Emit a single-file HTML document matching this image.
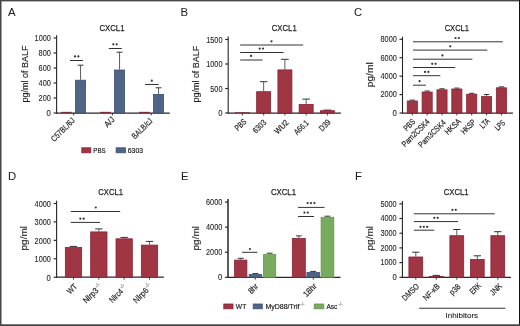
<!DOCTYPE html>
<html><head><meta charset="utf-8"><style>
html,body{margin:0;padding:0;background:#fff;}
body{width:520px;height:326px;overflow:hidden;}
svg{display:block;font-family:"Liberation Sans", sans-serif;will-change:transform;}
</style></head><body>
<svg width="520" height="326" viewBox="0 0 520 326">
<rect width="520" height="326" fill="#fff"/>
<rect x="0" y="0" width="1.5" height="326" fill="#444"/>
<rect x="0" y="0" width="520" height="1.4" fill="#484848"/>
<rect x="519" y="0" width="1" height="326" fill="#111"/>
<rect x="0" y="324.3" width="520" height="1.7" fill="#444"/>
<text x="8.00" y="15.80" font-size="11.3" text-anchor="start" fill="#231f20" stroke="#231f20" stroke-width="0.05" >A</text>
<text x="180.40" y="15.90" font-size="11.3" text-anchor="start" fill="#231f20" stroke="#231f20" stroke-width="0.05" >B</text>
<text x="354.00" y="16.00" font-size="11.3" text-anchor="start" fill="#231f20" stroke="#231f20" stroke-width="0.05" >C</text>
<text x="8.00" y="179.60" font-size="11.3" text-anchor="start" fill="#231f20" stroke="#231f20" stroke-width="0.05" >D</text>
<text x="181.00" y="179.80" font-size="11.3" text-anchor="start" fill="#231f20" stroke="#231f20" stroke-width="0.05" >E</text>
<text x="355.00" y="179.80" font-size="11.3" text-anchor="start" fill="#231f20" stroke="#231f20" stroke-width="0.05" >F</text>
<line x1="56.60" y1="35.30" x2="56.60" y2="113.50" stroke="#262626" stroke-width="1.1"/>
<line x1="53.60" y1="113.00" x2="56.60" y2="113.00" stroke="#262626" stroke-width="1.15"/>
<text x="50.90" y="115.85" font-size="8.4" text-anchor="end" fill="#231f20" stroke="#231f20" stroke-width="0.1" textLength="4.30" lengthAdjust="spacingAndGlyphs" >0</text>
<line x1="53.60" y1="98.00" x2="56.60" y2="98.00" stroke="#262626" stroke-width="1.15"/>
<text x="50.90" y="100.85" font-size="8.4" text-anchor="end" fill="#231f20" stroke="#231f20" stroke-width="0.1" textLength="12.30" lengthAdjust="spacingAndGlyphs" >200</text>
<line x1="53.60" y1="83.00" x2="56.60" y2="83.00" stroke="#262626" stroke-width="1.15"/>
<text x="50.90" y="85.85" font-size="8.4" text-anchor="end" fill="#231f20" stroke="#231f20" stroke-width="0.1" textLength="12.30" lengthAdjust="spacingAndGlyphs" >400</text>
<line x1="53.60" y1="68.00" x2="56.60" y2="68.00" stroke="#262626" stroke-width="1.15"/>
<text x="50.90" y="70.85" font-size="8.4" text-anchor="end" fill="#231f20" stroke="#231f20" stroke-width="0.1" textLength="12.30" lengthAdjust="spacingAndGlyphs" >600</text>
<line x1="53.60" y1="53.00" x2="56.60" y2="53.00" stroke="#262626" stroke-width="1.15"/>
<text x="50.90" y="55.85" font-size="8.4" text-anchor="end" fill="#231f20" stroke="#231f20" stroke-width="0.1" textLength="12.30" lengthAdjust="spacingAndGlyphs" >800</text>
<line x1="53.60" y1="38.00" x2="56.60" y2="38.00" stroke="#262626" stroke-width="1.15"/>
<text x="50.90" y="40.85" font-size="8.4" text-anchor="end" fill="#231f20" stroke="#231f20" stroke-width="0.1" textLength="16.30" lengthAdjust="spacingAndGlyphs" >1000</text>
<text x="99.40" y="30.73" font-size="9.8" text-anchor="start" fill="#231f20" stroke="#231f20" stroke-width="0.25" textLength="25.10" lengthAdjust="spacingAndGlyphs" >CXCL1</text>
<text x="27.82" y="73.97" font-size="8.6" text-anchor="middle" fill="#231f20" stroke="#231f20" stroke-width="0.15" textLength="56.90" lengthAdjust="spacingAndGlyphs" transform="rotate(-90 27.82 73.97)" >pg/ml of BALF</text>
<line x1="56.10" y1="113.00" x2="169.80" y2="113.00" stroke="#262626" stroke-width="1.25"/>
<line x1="73.60" y1="113.00" x2="73.60" y2="115.40" stroke="#262626" stroke-width="0.9"/>
<line x1="112.40" y1="113.00" x2="112.40" y2="115.40" stroke="#262626" stroke-width="0.9"/>
<line x1="151.20" y1="113.00" x2="151.20" y2="115.40" stroke="#262626" stroke-width="0.9"/>
<rect x="61.00" y="111.85" width="10.70" height="1.00" fill="#7e1a2b"/>
<rect x="100.00" y="111.85" width="10.70" height="1.00" fill="#7e1a2b"/>
<rect x="139.00" y="111.85" width="10.70" height="1.00" fill="#7e1a2b"/>
<line x1="80.55" y1="79.80" x2="80.55" y2="65.20" stroke="#4a4a4a" stroke-width="0.9"/>
<line x1="77.65" y1="65.20" x2="83.45" y2="65.20" stroke="#333" stroke-width="1"/>
<rect x="75.50" y="80.20" width="10.10" height="32.80" fill="#506586" stroke="#3c5075" stroke-width="0.8"/>
<line x1="119.55" y1="69.60" x2="119.55" y2="52.20" stroke="#4a4a4a" stroke-width="0.9"/>
<line x1="116.65" y1="52.20" x2="122.45" y2="52.20" stroke="#333" stroke-width="1"/>
<rect x="114.50" y="70.00" width="10.10" height="43.00" fill="#506586" stroke="#3c5075" stroke-width="0.8"/>
<line x1="158.55" y1="94.00" x2="158.55" y2="87.80" stroke="#4a4a4a" stroke-width="0.9"/>
<line x1="155.65" y1="87.80" x2="161.45" y2="87.80" stroke="#333" stroke-width="1"/>
<rect x="153.50" y="94.40" width="10.10" height="18.60" fill="#506586" stroke="#3c5075" stroke-width="0.8"/>
<line x1="70.00" y1="60.50" x2="83.00" y2="60.50" stroke="#333" stroke-width="1"/>
<circle cx="75.03" cy="56.40" r="1.1" fill="#333"/>
<circle cx="78.38" cy="56.40" r="1.1" fill="#333"/>
<line x1="108.90" y1="48.50" x2="121.80" y2="48.50" stroke="#333" stroke-width="1"/>
<circle cx="113.33" cy="44.30" r="1.1" fill="#333"/>
<circle cx="116.67" cy="44.30" r="1.1" fill="#333"/>
<line x1="145.00" y1="84.50" x2="158.60" y2="84.50" stroke="#333" stroke-width="1"/>
<circle cx="151.80" cy="80.70" r="1.1" fill="#333"/>
<text x="75.43" y="121.04" font-size="8.3" text-anchor="end" fill="#231f20" stroke="#231f20" stroke-width="0.2" textLength="30.01" lengthAdjust="spacingAndGlyphs" transform="rotate(-45 75.43 121.04)" >C57BL/6J</text>
<text x="115.27" y="120.04" font-size="8.3" text-anchor="end" fill="#231f20" stroke="#231f20" stroke-width="0.2" textLength="11.04" lengthAdjust="spacingAndGlyphs" transform="rotate(-45 115.27 120.04)" >A/J</text>
<text x="153.14" y="121.60" font-size="8.3" text-anchor="end" fill="#231f20" stroke="#231f20" stroke-width="0.2" textLength="25.48" lengthAdjust="spacingAndGlyphs" transform="rotate(-45 153.14 121.60)" >BALB/cJ</text>
<rect x="81.80" y="147.80" width="9.00" height="5.00" fill="#a03644" stroke="#8a2134" stroke-width="0.8"/>
<text x="93.32" y="152.52" font-size="7.8" text-anchor="start" fill="#231f20" stroke="#231f20" stroke-width="0.22" textLength="12.25" lengthAdjust="spacingAndGlyphs" >PBS</text>
<rect x="116.10" y="147.80" width="9.30" height="5.00" fill="#506586" stroke="#3c5075" stroke-width="0.8"/>
<text x="127.79" y="152.52" font-size="7.8" text-anchor="start" fill="#231f20" stroke="#231f20" stroke-width="0.22" textLength="15.21" lengthAdjust="spacingAndGlyphs" >6303</text>
<line x1="228.20" y1="36.40" x2="228.20" y2="113.50" stroke="#262626" stroke-width="1.1"/>
<line x1="225.20" y1="113.00" x2="228.20" y2="113.00" stroke="#262626" stroke-width="1.15"/>
<text x="222.50" y="116.45" font-size="8.4" text-anchor="end" fill="#231f20" stroke="#231f20" stroke-width="0.1" textLength="4.30" lengthAdjust="spacingAndGlyphs" >0</text>
<line x1="225.20" y1="88.50" x2="228.20" y2="88.50" stroke="#262626" stroke-width="1.15"/>
<text x="222.50" y="91.95" font-size="8.4" text-anchor="end" fill="#231f20" stroke="#231f20" stroke-width="0.1" textLength="12.30" lengthAdjust="spacingAndGlyphs" >500</text>
<line x1="225.20" y1="64.00" x2="228.20" y2="64.00" stroke="#262626" stroke-width="1.15"/>
<text x="222.50" y="67.45" font-size="8.4" text-anchor="end" fill="#231f20" stroke="#231f20" stroke-width="0.1" textLength="16.30" lengthAdjust="spacingAndGlyphs" >1000</text>
<line x1="225.20" y1="39.50" x2="228.20" y2="39.50" stroke="#262626" stroke-width="1.15"/>
<text x="222.50" y="42.95" font-size="8.4" text-anchor="end" fill="#231f20" stroke="#231f20" stroke-width="0.1" textLength="16.30" lengthAdjust="spacingAndGlyphs" >1500</text>
<text x="271.80" y="31.48" font-size="9.8" text-anchor="start" fill="#231f20" stroke="#231f20" stroke-width="0.25" textLength="24.89" lengthAdjust="spacingAndGlyphs" >CXCL1</text>
<text x="199.12" y="74.12" font-size="8.6" text-anchor="middle" fill="#231f20" stroke="#231f20" stroke-width="0.15" textLength="56.82" lengthAdjust="spacingAndGlyphs" transform="rotate(-90 199.12 74.12)" >pg/ml of BALF</text>
<line x1="227.70" y1="113.00" x2="340.90" y2="113.00" stroke="#262626" stroke-width="1.25"/>
<line x1="242.40" y1="113.00" x2="242.40" y2="115.40" stroke="#262626" stroke-width="0.9"/>
<line x1="263.65" y1="113.00" x2="263.65" y2="115.40" stroke="#262626" stroke-width="0.9"/>
<line x1="284.90" y1="113.00" x2="284.90" y2="115.40" stroke="#262626" stroke-width="0.9"/>
<line x1="306.15" y1="113.00" x2="306.15" y2="115.40" stroke="#262626" stroke-width="0.9"/>
<line x1="327.40" y1="113.00" x2="327.40" y2="115.40" stroke="#262626" stroke-width="0.9"/>
<rect x="234.80" y="112.00" width="15.20" height="0.70" fill="#7a2232"/>
<line x1="263.65" y1="91.30" x2="263.65" y2="81.70" stroke="#4a4a4a" stroke-width="0.9"/>
<line x1="259.85" y1="81.70" x2="267.45" y2="81.70" stroke="#333" stroke-width="1"/>
<rect x="256.65" y="91.70" width="14.00" height="21.30" fill="#a03644" stroke="#8a2134" stroke-width="0.8"/>
<line x1="284.90" y1="69.50" x2="284.90" y2="59.30" stroke="#4a4a4a" stroke-width="0.9"/>
<line x1="281.10" y1="59.30" x2="288.70" y2="59.30" stroke="#333" stroke-width="1"/>
<rect x="277.90" y="69.90" width="14.00" height="43.10" fill="#a03644" stroke="#8a2134" stroke-width="0.8"/>
<line x1="306.15" y1="104.00" x2="306.15" y2="99.10" stroke="#4a4a4a" stroke-width="0.9"/>
<line x1="302.35" y1="99.10" x2="309.95" y2="99.10" stroke="#333" stroke-width="1"/>
<rect x="299.15" y="104.40" width="14.00" height="8.60" fill="#a03644" stroke="#8a2134" stroke-width="0.8"/>
<line x1="327.40" y1="110.30" x2="327.40" y2="110.10" stroke="#4a4a4a" stroke-width="0.9"/>
<line x1="323.60" y1="110.10" x2="331.20" y2="110.10" stroke="#333" stroke-width="1"/>
<rect x="320.40" y="110.70" width="14.00" height="2.30" fill="#a03644" stroke="#8a2134" stroke-width="0.8"/>
<line x1="240.20" y1="45.00" x2="303.20" y2="45.00" stroke="#333" stroke-width="1"/>
<circle cx="271.50" cy="41.30" r="1.1" fill="#333"/>
<line x1="240.20" y1="52.50" x2="283.60" y2="52.50" stroke="#333" stroke-width="1"/>
<circle cx="259.72" cy="48.60" r="1.1" fill="#333"/>
<circle cx="263.07" cy="48.60" r="1.1" fill="#333"/>
<line x1="240.20" y1="60.00" x2="262.60" y2="60.00" stroke="#333" stroke-width="1"/>
<circle cx="251.10" cy="55.90" r="1.1" fill="#333"/>
<text x="246.85" y="122.38" font-size="8.3" text-anchor="end" fill="#231f20" stroke="#231f20" stroke-width="0.2" textLength="12.48" lengthAdjust="spacingAndGlyphs" transform="rotate(-45 246.85 122.38)" >PBS</text>
<text x="266.85" y="123.06" font-size="8.3" text-anchor="end" fill="#231f20" stroke="#231f20" stroke-width="0.2" textLength="15.21" lengthAdjust="spacingAndGlyphs" transform="rotate(-45 266.85 123.06)" >6303</text>
<text x="289.18" y="123.19" font-size="8.3" text-anchor="end" fill="#231f20" stroke="#231f20" stroke-width="0.2" textLength="16.07" lengthAdjust="spacingAndGlyphs" transform="rotate(-45 289.18 123.19)" >WU2</text>
<text x="309.20" y="123.44" font-size="8.3" text-anchor="end" fill="#231f20" stroke="#231f20" stroke-width="0.2" textLength="16.79" lengthAdjust="spacingAndGlyphs" transform="rotate(-45 309.20 123.44)" >A66.1</text>
<text x="331.15" y="122.73" font-size="8.3" text-anchor="end" fill="#231f20" stroke="#231f20" stroke-width="0.2" textLength="12.63" lengthAdjust="spacingAndGlyphs" transform="rotate(-45 331.15 122.73)" >D39</text>
<line x1="402.50" y1="36.80" x2="402.50" y2="113.50" stroke="#262626" stroke-width="1.1"/>
<line x1="399.50" y1="113.00" x2="402.50" y2="113.00" stroke="#262626" stroke-width="1.15"/>
<text x="396.80" y="115.85" font-size="8.4" text-anchor="end" fill="#231f20" stroke="#231f20" stroke-width="0.1" textLength="4.30" lengthAdjust="spacingAndGlyphs" >0</text>
<line x1="399.50" y1="94.58" x2="402.50" y2="94.58" stroke="#262626" stroke-width="1.15"/>
<text x="396.80" y="97.42" font-size="8.4" text-anchor="end" fill="#231f20" stroke="#231f20" stroke-width="0.1" textLength="16.30" lengthAdjust="spacingAndGlyphs" >2000</text>
<line x1="399.50" y1="76.15" x2="402.50" y2="76.15" stroke="#262626" stroke-width="1.15"/>
<text x="396.80" y="79.00" font-size="8.4" text-anchor="end" fill="#231f20" stroke="#231f20" stroke-width="0.1" textLength="16.30" lengthAdjust="spacingAndGlyphs" >4000</text>
<line x1="399.50" y1="57.73" x2="402.50" y2="57.73" stroke="#262626" stroke-width="1.15"/>
<text x="396.80" y="60.58" font-size="8.4" text-anchor="end" fill="#231f20" stroke="#231f20" stroke-width="0.1" textLength="16.30" lengthAdjust="spacingAndGlyphs" >6000</text>
<line x1="399.50" y1="39.30" x2="402.50" y2="39.30" stroke="#262626" stroke-width="1.15"/>
<text x="396.80" y="42.15" font-size="8.4" text-anchor="end" fill="#231f20" stroke="#231f20" stroke-width="0.1" textLength="16.30" lengthAdjust="spacingAndGlyphs" >8000</text>
<text x="444.68" y="30.51" font-size="9.8" text-anchor="start" fill="#231f20" stroke="#231f20" stroke-width="0.25" textLength="24.34" lengthAdjust="spacingAndGlyphs" >CXCL1</text>
<text x="373.15" y="74.77" font-size="8.6" text-anchor="middle" fill="#231f20" stroke="#231f20" stroke-width="0.15" textLength="24.88" lengthAdjust="spacingAndGlyphs" transform="rotate(-90 373.15 74.77)" >pg/ml</text>
<line x1="402.00" y1="113.00" x2="512.90" y2="113.00" stroke="#262626" stroke-width="1.25"/>
<line x1="412.30" y1="113.00" x2="412.30" y2="115.40" stroke="#262626" stroke-width="0.9"/>
<line x1="427.15" y1="113.00" x2="427.15" y2="115.40" stroke="#262626" stroke-width="0.9"/>
<line x1="442.00" y1="113.00" x2="442.00" y2="115.40" stroke="#262626" stroke-width="0.9"/>
<line x1="456.85" y1="113.00" x2="456.85" y2="115.40" stroke="#262626" stroke-width="0.9"/>
<line x1="471.70" y1="113.00" x2="471.70" y2="115.40" stroke="#262626" stroke-width="0.9"/>
<line x1="486.55" y1="113.00" x2="486.55" y2="115.40" stroke="#262626" stroke-width="0.9"/>
<line x1="501.40" y1="113.00" x2="501.40" y2="115.40" stroke="#262626" stroke-width="0.9"/>
<line x1="412.30" y1="100.60" x2="412.30" y2="100.10" stroke="#4a4a4a" stroke-width="0.9"/>
<line x1="409.65" y1="100.10" x2="414.95" y2="100.10" stroke="#333" stroke-width="1"/>
<rect x="407.25" y="101.00" width="10.10" height="12.00" fill="#a03644" stroke="#8a2134" stroke-width="0.8"/>
<line x1="427.15" y1="91.60" x2="427.15" y2="91.00" stroke="#4a4a4a" stroke-width="0.9"/>
<line x1="424.50" y1="91.00" x2="429.80" y2="91.00" stroke="#333" stroke-width="1"/>
<rect x="422.10" y="92.00" width="10.10" height="21.00" fill="#a03644" stroke="#8a2134" stroke-width="0.8"/>
<line x1="442.00" y1="89.40" x2="442.00" y2="88.80" stroke="#4a4a4a" stroke-width="0.9"/>
<line x1="439.35" y1="88.80" x2="444.65" y2="88.80" stroke="#333" stroke-width="1"/>
<rect x="436.95" y="89.80" width="10.10" height="23.20" fill="#a03644" stroke="#8a2134" stroke-width="0.8"/>
<line x1="456.85" y1="88.60" x2="456.85" y2="88.10" stroke="#4a4a4a" stroke-width="0.9"/>
<line x1="454.20" y1="88.10" x2="459.50" y2="88.10" stroke="#333" stroke-width="1"/>
<rect x="451.80" y="89.00" width="10.10" height="24.00" fill="#a03644" stroke="#8a2134" stroke-width="0.8"/>
<line x1="471.70" y1="93.80" x2="471.70" y2="93.30" stroke="#4a4a4a" stroke-width="0.9"/>
<line x1="469.05" y1="93.30" x2="474.35" y2="93.30" stroke="#333" stroke-width="1"/>
<rect x="466.65" y="94.20" width="10.10" height="18.80" fill="#a03644" stroke="#8a2134" stroke-width="0.8"/>
<line x1="486.55" y1="96.20" x2="486.55" y2="94.50" stroke="#4a4a4a" stroke-width="0.9"/>
<line x1="483.90" y1="94.50" x2="489.20" y2="94.50" stroke="#333" stroke-width="1"/>
<rect x="481.50" y="96.60" width="10.10" height="16.40" fill="#a03644" stroke="#8a2134" stroke-width="0.8"/>
<line x1="501.40" y1="87.40" x2="501.40" y2="86.90" stroke="#4a4a4a" stroke-width="0.9"/>
<line x1="498.75" y1="86.90" x2="504.05" y2="86.90" stroke="#333" stroke-width="1"/>
<rect x="496.35" y="87.80" width="10.10" height="25.20" fill="#a03644" stroke="#8a2134" stroke-width="0.8"/>
<line x1="413.00" y1="41.80" x2="502.80" y2="41.80" stroke="#333" stroke-width="1"/>
<circle cx="455.52" cy="38.00" r="1.1" fill="#333"/>
<circle cx="458.88" cy="38.00" r="1.1" fill="#333"/>
<line x1="413.00" y1="50.10" x2="487.30" y2="50.10" stroke="#333" stroke-width="1"/>
<circle cx="450.20" cy="46.30" r="1.1" fill="#333"/>
<line x1="413.00" y1="59.20" x2="472.40" y2="59.20" stroke="#333" stroke-width="1"/>
<circle cx="442.40" cy="55.40" r="1.1" fill="#333"/>
<line x1="413.00" y1="67.50" x2="455.20" y2="67.50" stroke="#333" stroke-width="1"/>
<circle cx="432.22" cy="63.80" r="1.1" fill="#333"/>
<circle cx="435.57" cy="63.80" r="1.1" fill="#333"/>
<line x1="413.00" y1="75.70" x2="440.30" y2="75.70" stroke="#333" stroke-width="1"/>
<circle cx="425.02" cy="71.90" r="1.1" fill="#333"/>
<circle cx="428.38" cy="71.90" r="1.1" fill="#333"/>
<line x1="413.00" y1="85.20" x2="425.90" y2="85.20" stroke="#333" stroke-width="1"/>
<circle cx="419.60" cy="81.20" r="1.1" fill="#333"/>
<text x="415.87" y="122.29" font-size="8.3" text-anchor="end" fill="#231f20" stroke="#231f20" stroke-width="0.2" textLength="13.05" lengthAdjust="spacingAndGlyphs" transform="rotate(-45 415.87 122.29)" >PBS</text>
<text x="430.25" y="122.21" font-size="8.3" text-anchor="end" fill="#231f20" stroke="#231f20" stroke-width="0.2" textLength="35.85" lengthAdjust="spacingAndGlyphs" transform="rotate(-45 430.25 122.21)" >Pam2CSK4</text>
<text x="446.29" y="123.20" font-size="8.3" text-anchor="end" fill="#231f20" stroke="#231f20" stroke-width="0.2" textLength="34.98" lengthAdjust="spacingAndGlyphs" transform="rotate(-45 446.29 123.20)" >Pam3CSK4</text>
<text x="461.45" y="121.85" font-size="8.3" text-anchor="end" fill="#231f20" stroke="#231f20" stroke-width="0.2" textLength="18.95" lengthAdjust="spacingAndGlyphs" transform="rotate(-45 461.45 121.85)" >HKSA</text>
<text x="476.28" y="122.74" font-size="8.3" text-anchor="end" fill="#231f20" stroke="#231f20" stroke-width="0.2" textLength="17.13" lengthAdjust="spacingAndGlyphs" transform="rotate(-45 476.28 122.74)" >HKSP</text>
<text x="490.26" y="121.77" font-size="8.3" text-anchor="end" fill="#231f20" stroke="#231f20" stroke-width="0.2" textLength="10.10" lengthAdjust="spacingAndGlyphs" transform="rotate(-45 490.26 121.77)" >LTA</text>
<text x="505.64" y="123.44" font-size="8.3" text-anchor="end" fill="#231f20" stroke="#231f20" stroke-width="0.2" textLength="10.84" lengthAdjust="spacingAndGlyphs" transform="rotate(-45 505.64 123.44)" >LPS</text>
<line x1="56.60" y1="200.80" x2="56.60" y2="277.70" stroke="#262626" stroke-width="1.1"/>
<line x1="53.60" y1="277.20" x2="56.60" y2="277.20" stroke="#262626" stroke-width="1.15"/>
<text x="50.90" y="280.65" font-size="8.4" text-anchor="end" fill="#231f20" stroke="#231f20" stroke-width="0.1" textLength="4.30" lengthAdjust="spacingAndGlyphs" >0</text>
<line x1="53.60" y1="258.77" x2="56.60" y2="258.77" stroke="#262626" stroke-width="1.15"/>
<text x="50.90" y="262.23" font-size="8.4" text-anchor="end" fill="#231f20" stroke="#231f20" stroke-width="0.1" textLength="16.30" lengthAdjust="spacingAndGlyphs" >1000</text>
<line x1="53.60" y1="240.35" x2="56.60" y2="240.35" stroke="#262626" stroke-width="1.15"/>
<text x="50.90" y="243.80" font-size="8.4" text-anchor="end" fill="#231f20" stroke="#231f20" stroke-width="0.1" textLength="16.30" lengthAdjust="spacingAndGlyphs" >2000</text>
<line x1="53.60" y1="221.93" x2="56.60" y2="221.93" stroke="#262626" stroke-width="1.15"/>
<text x="50.90" y="225.38" font-size="8.4" text-anchor="end" fill="#231f20" stroke="#231f20" stroke-width="0.1" textLength="16.30" lengthAdjust="spacingAndGlyphs" >3000</text>
<line x1="53.60" y1="203.50" x2="56.60" y2="203.50" stroke="#262626" stroke-width="1.15"/>
<text x="50.90" y="206.95" font-size="8.4" text-anchor="end" fill="#231f20" stroke="#231f20" stroke-width="0.1" textLength="16.30" lengthAdjust="spacingAndGlyphs" >4000</text>
<text x="98.34" y="195.42" font-size="9.8" text-anchor="start" fill="#231f20" stroke="#231f20" stroke-width="0.25" textLength="24.69" lengthAdjust="spacingAndGlyphs" >CXCL1</text>
<text x="26.72" y="238.25" font-size="8.6" text-anchor="middle" fill="#231f20" stroke="#231f20" stroke-width="0.15" textLength="24.32" lengthAdjust="spacingAndGlyphs" transform="rotate(-90 26.72 238.25)" >pg/ml</text>
<line x1="56.10" y1="277.20" x2="163.80" y2="277.20" stroke="#262626" stroke-width="1.25"/>
<line x1="73.50" y1="277.20" x2="73.50" y2="279.60" stroke="#262626" stroke-width="0.9"/>
<line x1="98.83" y1="277.20" x2="98.83" y2="279.60" stroke="#262626" stroke-width="0.9"/>
<line x1="124.16" y1="277.20" x2="124.16" y2="279.60" stroke="#262626" stroke-width="0.9"/>
<line x1="149.49" y1="277.20" x2="149.49" y2="279.60" stroke="#262626" stroke-width="0.9"/>
<line x1="73.50" y1="247.10" x2="73.50" y2="246.40" stroke="#4a4a4a" stroke-width="0.9"/>
<line x1="69.80" y1="246.40" x2="77.20" y2="246.40" stroke="#333" stroke-width="1"/>
<rect x="65.35" y="247.50" width="16.30" height="29.70" fill="#a03644" stroke="#8a2134" stroke-width="0.8"/>
<line x1="98.83" y1="231.50" x2="98.83" y2="228.90" stroke="#4a4a4a" stroke-width="0.9"/>
<line x1="95.13" y1="228.90" x2="102.53" y2="228.90" stroke="#333" stroke-width="1"/>
<rect x="90.68" y="231.90" width="16.30" height="45.30" fill="#a03644" stroke="#8a2134" stroke-width="0.8"/>
<line x1="124.16" y1="238.40" x2="124.16" y2="237.40" stroke="#4a4a4a" stroke-width="0.9"/>
<line x1="120.46" y1="237.40" x2="127.86" y2="237.40" stroke="#333" stroke-width="1"/>
<rect x="116.01" y="238.80" width="16.30" height="38.40" fill="#a03644" stroke="#8a2134" stroke-width="0.8"/>
<line x1="149.49" y1="244.70" x2="149.49" y2="241.40" stroke="#4a4a4a" stroke-width="0.9"/>
<line x1="145.79" y1="241.40" x2="153.19" y2="241.40" stroke="#333" stroke-width="1"/>
<rect x="141.34" y="245.10" width="16.30" height="32.10" fill="#a03644" stroke="#8a2134" stroke-width="0.8"/>
<line x1="70.80" y1="211.50" x2="120.20" y2="211.50" stroke="#333" stroke-width="1"/>
<circle cx="95.80" cy="207.50" r="1.1" fill="#333"/>
<line x1="70.80" y1="222.40" x2="100.00" y2="222.40" stroke="#333" stroke-width="1"/>
<circle cx="80.33" cy="218.70" r="1.1" fill="#333"/>
<circle cx="83.67" cy="218.70" r="1.1" fill="#333"/>
<text x="77.68" y="287.17" font-size="8.3" text-anchor="end" fill="#231f20" stroke="#231f20" stroke-width="0.2" textLength="10.47" lengthAdjust="spacingAndGlyphs" transform="rotate(-45 77.68 287.17)" >WT</text>
<text x="99.09" y="291.14" font-size="8.3" text-anchor="end" fill="#231f20" stroke="#231f20" stroke-width="0.2" textLength="17.97" lengthAdjust="spacingAndGlyphs" transform="rotate(-45 99.09 291.14)" >Nlrp3</text>
<text x="99.59" y="287.74" font-size="5.8" fill="#7a7a7a" stroke="#7a7a7a" stroke-width="0.12" textLength="5.2" lengthAdjust="spacingAndGlyphs" transform="rotate(-45 99.09 291.14)">-/-</text>
<text x="123.78" y="292.04" font-size="8.3" text-anchor="end" fill="#231f20" stroke="#231f20" stroke-width="0.2" textLength="15.79" lengthAdjust="spacingAndGlyphs" transform="rotate(-45 123.78 292.04)" >Nlrc4</text>
<text x="124.28" y="288.64" font-size="5.8" fill="#7a7a7a" stroke="#7a7a7a" stroke-width="0.12" textLength="5.2" lengthAdjust="spacingAndGlyphs" transform="rotate(-45 123.78 292.04)">-/-</text>
<text x="149.06" y="291.16" font-size="8.3" text-anchor="end" fill="#231f20" stroke="#231f20" stroke-width="0.2" textLength="17.64" lengthAdjust="spacingAndGlyphs" transform="rotate(-45 149.06 291.16)" >Nlrp6</text>
<text x="149.56" y="287.76" font-size="5.8" fill="#7a7a7a" stroke="#7a7a7a" stroke-width="0.12" textLength="5.2" lengthAdjust="spacingAndGlyphs" transform="rotate(-45 149.06 291.16)">-/-</text>
<line x1="228.00" y1="199.10" x2="228.00" y2="277.80" stroke="#262626" stroke-width="1.5"/>
<line x1="225.00" y1="277.30" x2="228.00" y2="277.30" stroke="#262626" stroke-width="1.15"/>
<text x="222.30" y="280.15" font-size="8.4" text-anchor="end" fill="#231f20" stroke="#231f20" stroke-width="0.1" textLength="4.30" lengthAdjust="spacingAndGlyphs" >0</text>
<line x1="225.00" y1="252.23" x2="228.00" y2="252.23" stroke="#262626" stroke-width="1.15"/>
<text x="222.30" y="255.08" font-size="8.4" text-anchor="end" fill="#231f20" stroke="#231f20" stroke-width="0.1" textLength="16.30" lengthAdjust="spacingAndGlyphs" >2000</text>
<line x1="225.00" y1="227.17" x2="228.00" y2="227.17" stroke="#262626" stroke-width="1.15"/>
<text x="222.30" y="230.02" font-size="8.4" text-anchor="end" fill="#231f20" stroke="#231f20" stroke-width="0.1" textLength="16.30" lengthAdjust="spacingAndGlyphs" >4000</text>
<line x1="225.00" y1="202.10" x2="228.00" y2="202.10" stroke="#262626" stroke-width="1.15"/>
<text x="222.30" y="204.95" font-size="8.4" text-anchor="end" fill="#231f20" stroke="#231f20" stroke-width="0.1" textLength="16.30" lengthAdjust="spacingAndGlyphs" >6000</text>
<text x="270.90" y="195.24" font-size="9.8" text-anchor="start" fill="#231f20" stroke="#231f20" stroke-width="0.25" textLength="25.16" lengthAdjust="spacingAndGlyphs" >CXCL1</text>
<text x="198.72" y="238.25" font-size="8.6" text-anchor="middle" fill="#231f20" stroke="#231f20" stroke-width="0.15" textLength="24.32" lengthAdjust="spacingAndGlyphs" transform="rotate(-90 198.72 238.25)" >pg/ml</text>
<line x1="227.50" y1="277.30" x2="340.50" y2="277.30" stroke="#262626" stroke-width="1.25"/>
<line x1="255.20" y1="277.30" x2="255.20" y2="279.70" stroke="#262626" stroke-width="0.9"/>
<line x1="313.30" y1="277.30" x2="313.30" y2="279.70" stroke="#262626" stroke-width="0.9"/>
<line x1="240.75" y1="259.70" x2="240.75" y2="258.30" stroke="#4a4a4a" stroke-width="0.9"/>
<line x1="237.75" y1="258.30" x2="243.75" y2="258.30" stroke="#333" stroke-width="1"/>
<rect x="234.60" y="260.10" width="12.30" height="17.20" fill="#a03644" stroke="#8a2134" stroke-width="0.8"/>
<line x1="255.40" y1="274.00" x2="255.40" y2="273.60" stroke="#4a4a4a" stroke-width="0.9"/>
<line x1="252.40" y1="273.60" x2="258.40" y2="273.60" stroke="#333" stroke-width="1"/>
<rect x="249.20" y="274.40" width="12.40" height="2.90" fill="#506586" stroke="#3c5075" stroke-width="0.8"/>
<line x1="269.60" y1="254.20" x2="269.60" y2="253.20" stroke="#4a4a4a" stroke-width="0.9"/>
<line x1="266.60" y1="253.20" x2="272.60" y2="253.20" stroke="#333" stroke-width="1"/>
<rect x="263.50" y="254.60" width="12.20" height="22.70" fill="#78aa5f" stroke="#62964a" stroke-width="0.8"/>
<line x1="298.80" y1="238.00" x2="298.80" y2="235.90" stroke="#4a4a4a" stroke-width="0.9"/>
<line x1="295.90" y1="235.90" x2="301.70" y2="235.90" stroke="#333" stroke-width="1"/>
<rect x="292.30" y="238.40" width="13.00" height="38.90" fill="#a03644" stroke="#8a2134" stroke-width="0.8"/>
<line x1="313.20" y1="272.10" x2="313.20" y2="271.40" stroke="#4a4a4a" stroke-width="0.9"/>
<line x1="310.20" y1="271.40" x2="316.20" y2="271.40" stroke="#333" stroke-width="1"/>
<rect x="306.90" y="272.50" width="12.60" height="4.80" fill="#506586" stroke="#3c5075" stroke-width="0.8"/>
<line x1="327.45" y1="216.90" x2="327.45" y2="216.20" stroke="#4a4a4a" stroke-width="0.9"/>
<line x1="324.45" y1="216.20" x2="330.45" y2="216.20" stroke="#333" stroke-width="1"/>
<rect x="321.10" y="217.30" width="12.70" height="60.00" fill="#78aa5f" stroke="#62964a" stroke-width="0.8"/>
<line x1="242.10" y1="252.30" x2="257.40" y2="252.30" stroke="#333" stroke-width="1"/>
<circle cx="249.90" cy="249.00" r="1.1" fill="#333"/>
<line x1="298.00" y1="207.40" x2="324.50" y2="207.40" stroke="#333" stroke-width="1"/>
<circle cx="307.65" cy="203.10" r="1.1" fill="#333"/>
<circle cx="311.00" cy="203.10" r="1.1" fill="#333"/>
<circle cx="314.35" cy="203.10" r="1.1" fill="#333"/>
<line x1="298.00" y1="216.50" x2="314.00" y2="216.50" stroke="#333" stroke-width="1"/>
<circle cx="304.43" cy="212.60" r="1.1" fill="#333"/>
<circle cx="307.78" cy="212.60" r="1.1" fill="#333"/>
<text x="258.83" y="286.84" font-size="8.3" text-anchor="end" fill="#231f20" stroke="#231f20" stroke-width="0.2" textLength="10.48" lengthAdjust="spacingAndGlyphs" transform="rotate(-45 258.83 286.84)" >8hr</text>
<text x="317.29" y="286.68" font-size="8.3" text-anchor="end" fill="#231f20" stroke="#231f20" stroke-width="0.2" textLength="15.13" lengthAdjust="spacingAndGlyphs" transform="rotate(-45 317.29 286.68)" >18hr</text>
<rect x="223.80" y="304.00" width="9.20" height="4.80" fill="#a03644" stroke="#8a2134" stroke-width="0.8"/>
<text x="235.87" y="309.00" font-size="7.8" text-anchor="start" fill="#231f20" stroke="#231f20" stroke-width="0.22" textLength="10.35" lengthAdjust="spacingAndGlyphs" >WT</text>
<rect x="253.20" y="304.00" width="9.10" height="4.80" fill="#506586" stroke="#3c5075" stroke-width="0.8"/>
<text x="265.44" y="309.00" font-size="7.8" text-anchor="start" fill="#231f20" stroke="#231f20" stroke-width="0.22" textLength="33.96" lengthAdjust="spacingAndGlyphs" >MyD88/Trif</text>
<text x="300.00" y="305.80" font-size="5.6" fill="#7a7a7a" stroke="#7a7a7a" stroke-width="0.12" textLength="4.8" lengthAdjust="spacingAndGlyphs">-/-</text>
<rect x="314.20" y="304.00" width="9.60" height="4.80" fill="#78aa5f" stroke="#62964a" stroke-width="0.8"/>
<text x="326.43" y="309.00" font-size="7.8" text-anchor="start" fill="#231f20" stroke="#231f20" stroke-width="0.22" textLength="10.98" lengthAdjust="spacingAndGlyphs" >Asc</text>
<text x="338.01" y="305.80" font-size="5.6" fill="#7a7a7a" stroke="#7a7a7a" stroke-width="0.12" textLength="4.8" lengthAdjust="spacingAndGlyphs">-/-</text>
<line x1="402.40" y1="201.00" x2="402.40" y2="277.80" stroke="#262626" stroke-width="1.1"/>
<line x1="399.40" y1="277.30" x2="402.40" y2="277.30" stroke="#262626" stroke-width="1.15"/>
<text x="396.70" y="280.15" font-size="8.4" text-anchor="end" fill="#231f20" stroke="#231f20" stroke-width="0.1" textLength="4.30" lengthAdjust="spacingAndGlyphs" >0</text>
<line x1="399.40" y1="262.60" x2="402.40" y2="262.60" stroke="#262626" stroke-width="1.15"/>
<text x="396.70" y="265.45" font-size="8.4" text-anchor="end" fill="#231f20" stroke="#231f20" stroke-width="0.1" textLength="16.30" lengthAdjust="spacingAndGlyphs" >1000</text>
<line x1="399.40" y1="247.90" x2="402.40" y2="247.90" stroke="#262626" stroke-width="1.15"/>
<text x="396.70" y="250.75" font-size="8.4" text-anchor="end" fill="#231f20" stroke="#231f20" stroke-width="0.1" textLength="16.30" lengthAdjust="spacingAndGlyphs" >2000</text>
<line x1="399.40" y1="233.20" x2="402.40" y2="233.20" stroke="#262626" stroke-width="1.15"/>
<text x="396.70" y="236.05" font-size="8.4" text-anchor="end" fill="#231f20" stroke="#231f20" stroke-width="0.1" textLength="16.30" lengthAdjust="spacingAndGlyphs" >3000</text>
<line x1="399.40" y1="218.50" x2="402.40" y2="218.50" stroke="#262626" stroke-width="1.15"/>
<text x="396.70" y="221.35" font-size="8.4" text-anchor="end" fill="#231f20" stroke="#231f20" stroke-width="0.1" textLength="16.30" lengthAdjust="spacingAndGlyphs" >4000</text>
<line x1="399.40" y1="203.80" x2="402.40" y2="203.80" stroke="#262626" stroke-width="1.15"/>
<text x="396.70" y="206.65" font-size="8.4" text-anchor="end" fill="#231f20" stroke="#231f20" stroke-width="0.1" textLength="16.30" lengthAdjust="spacingAndGlyphs" >5000</text>
<text x="443.80" y="195.24" font-size="9.8" text-anchor="start" fill="#231f20" stroke="#231f20" stroke-width="0.25" textLength="24.86" lengthAdjust="spacingAndGlyphs" >CXCL1</text>
<text x="372.92" y="238.25" font-size="8.6" text-anchor="middle" fill="#231f20" stroke="#231f20" stroke-width="0.15" textLength="24.32" lengthAdjust="spacingAndGlyphs" transform="rotate(-90 372.92 238.25)" >pg/ml</text>
<line x1="401.90" y1="277.30" x2="510.90" y2="277.30" stroke="#262626" stroke-width="1.25"/>
<line x1="415.80" y1="277.30" x2="415.80" y2="279.70" stroke="#262626" stroke-width="0.9"/>
<line x1="436.30" y1="277.30" x2="436.30" y2="279.70" stroke="#262626" stroke-width="0.9"/>
<line x1="456.80" y1="277.30" x2="456.80" y2="279.70" stroke="#262626" stroke-width="0.9"/>
<line x1="477.30" y1="277.30" x2="477.30" y2="279.70" stroke="#262626" stroke-width="0.9"/>
<line x1="497.80" y1="277.30" x2="497.80" y2="279.70" stroke="#262626" stroke-width="0.9"/>
<line x1="415.80" y1="256.60" x2="415.80" y2="252.20" stroke="#4a4a4a" stroke-width="0.9"/>
<line x1="412.15" y1="252.20" x2="419.45" y2="252.20" stroke="#333" stroke-width="1"/>
<rect x="408.90" y="257.00" width="13.80" height="20.30" fill="#a03644" stroke="#8a2134" stroke-width="0.8"/>
<line x1="436.30" y1="276.00" x2="436.30" y2="275.40" stroke="#4a4a4a" stroke-width="0.9"/>
<line x1="432.65" y1="275.40" x2="439.95" y2="275.40" stroke="#333" stroke-width="1"/>
<rect x="429.40" y="276.40" width="13.80" height="0.90" fill="#a03644" stroke="#8a2134" stroke-width="0.8"/>
<line x1="456.80" y1="235.30" x2="456.80" y2="229.50" stroke="#4a4a4a" stroke-width="0.9"/>
<line x1="453.15" y1="229.50" x2="460.45" y2="229.50" stroke="#333" stroke-width="1"/>
<rect x="449.90" y="235.70" width="13.80" height="41.60" fill="#a03644" stroke="#8a2134" stroke-width="0.8"/>
<line x1="477.30" y1="259.00" x2="477.30" y2="255.80" stroke="#4a4a4a" stroke-width="0.9"/>
<line x1="473.65" y1="255.80" x2="480.95" y2="255.80" stroke="#333" stroke-width="1"/>
<rect x="470.40" y="259.40" width="13.80" height="17.90" fill="#a03644" stroke="#8a2134" stroke-width="0.8"/>
<line x1="497.80" y1="235.30" x2="497.80" y2="231.70" stroke="#4a4a4a" stroke-width="0.9"/>
<line x1="494.15" y1="231.70" x2="501.45" y2="231.70" stroke="#333" stroke-width="1"/>
<rect x="490.90" y="235.70" width="13.80" height="41.60" fill="#a03644" stroke="#8a2134" stroke-width="0.8"/>
<line x1="413.80" y1="213.80" x2="494.80" y2="213.80" stroke="#333" stroke-width="1"/>
<circle cx="452.43" cy="209.80" r="1.1" fill="#333"/>
<circle cx="455.78" cy="209.80" r="1.1" fill="#333"/>
<line x1="413.80" y1="221.60" x2="458.10" y2="221.60" stroke="#333" stroke-width="1"/>
<circle cx="434.32" cy="217.80" r="1.1" fill="#333"/>
<circle cx="437.68" cy="217.80" r="1.1" fill="#333"/>
<line x1="413.80" y1="230.20" x2="434.40" y2="230.20" stroke="#333" stroke-width="1"/>
<circle cx="420.45" cy="226.80" r="1.1" fill="#333"/>
<circle cx="423.80" cy="226.80" r="1.1" fill="#333"/>
<circle cx="427.15" cy="226.80" r="1.1" fill="#333"/>
<text x="419.75" y="286.93" font-size="8.3" text-anchor="end" fill="#231f20" stroke="#231f20" stroke-width="0.2" textLength="20.33" lengthAdjust="spacingAndGlyphs" transform="rotate(-45 419.75 286.93)" >DMSO</text>
<text x="440.38" y="286.94" font-size="8.3" text-anchor="end" fill="#231f20" stroke="#231f20" stroke-width="0.2" textLength="19.84" lengthAdjust="spacingAndGlyphs" transform="rotate(-45 440.38 286.94)" >NF-κB</text>
<text x="461.01" y="287.13" font-size="8.3" text-anchor="end" fill="#231f20" stroke="#231f20" stroke-width="0.2" textLength="11.85" lengthAdjust="spacingAndGlyphs" transform="rotate(-45 461.01 287.13)" >p38</text>
<text x="481.56" y="286.30" font-size="8.3" text-anchor="end" fill="#231f20" stroke="#231f20" stroke-width="0.2" textLength="12.09" lengthAdjust="spacingAndGlyphs" transform="rotate(-45 481.56 286.30)" >ERK</text>
<text x="502.50" y="286.76" font-size="8.3" text-anchor="end" fill="#231f20" stroke="#231f20" stroke-width="0.2" textLength="13.10" lengthAdjust="spacingAndGlyphs" transform="rotate(-45 502.50 286.76)" >JNK</text>
<line x1="419.20" y1="308.30" x2="505.40" y2="308.30" stroke="#333" stroke-width="1.1"/>
<text x="445.52" y="318.00" font-size="7.6" text-anchor="start" fill="#231f20" stroke="#231f20" stroke-width="0.12" textLength="32.59" lengthAdjust="spacingAndGlyphs" >Inhibitors</text>
</svg>
</body></html>
